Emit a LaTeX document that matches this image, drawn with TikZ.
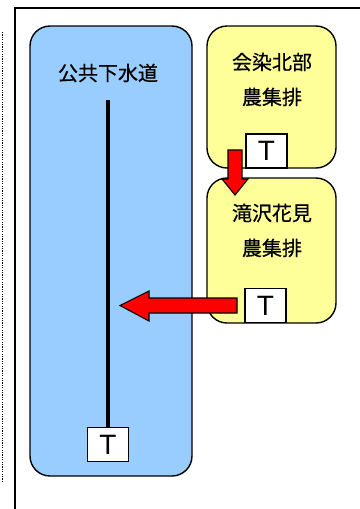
\documentclass[tikz,border=0pt]{standalone}
\usepackage{fontspec}
\setmainfont{Liberation Sans}
\newfontfamily\cjk[FakeBold=0.6]{Noto Sans CJK JP}
\begin{document}
\begin{tikzpicture}[x=1pt,y=-1pt,
  blueblk/.style={draw=black,line width=1.4pt,fill={rgb,255:red,153;green,204;blue,255},rounded corners=20pt},
  yelblk/.style={draw=black,line width=1.4pt,fill={rgb,255:red,255;green,255;blue,153},rounded corners=20pt},
  tbox/.style={draw=black,line width=1.3pt,fill=white,minimum width=41pt,minimum height=34pt,inner sep=0pt,font=\fontsize{28}{28}\selectfont},
  lbl/.style={font=\cjk\fontsize{20}{35}\selectfont,align=center},
  redarrow/.style={draw=black,line width=1.1pt,fill=red,line join=miter}]
\useasboundingbox (0,0) rectangle (359,509);
\fill[white] (0,0) rectangle (359,509);
% frame
\draw[line width=1.2pt] (15,520) -- (15,8) -- (370,8);
\draw[line width=1.6pt,dash pattern=on 1.2pt off 1.2pt] (2.5,32) -- (2.5,483);
% boxes
\node[blueblk,minimum width=162pt,minimum height=450pt,inner sep=0pt] (pub) at (111,251) {};
\node[yelblk,minimum width=129pt,minimum height=142pt,inner sep=0pt] (aizome) at (271.5,97) {};
\node[yelblk,minimum width=129pt,minimum height=145pt,inner sep=0pt] (takizawa) at (271.5,250.5) {};
% labels
\node[lbl] (publ) at (108,73) {公共下水道};
\node[lbl] (aizl) at (272,79.5) {会染北部\\農集排};
\node[lbl] (takl) at (272,230.5) {滝沢花見\\農集排};
% T boxes
\node[tbox] (t1) at (266.5,151) {T};
\node[tbox] (t2) at (265.5,305.5) {T};
\node[tbox] (t3) at (108,444.5) {T};
\coordinate (ltop) at (108,100);
\draw[line width=4pt] (ltop) -- (t3.north);
% red arrows
\draw[redarrow] (228,150) -- (242,150) -- (242,179) -- (248,179) -- (235,195) -- (222,179) -- (228,179) -- cycle;
\draw[redarrow] (237,298) -- (149,298) -- (149,291) -- (120,305.5) -- (149,321) -- (149,313) -- (237,313) -- cycle;
\end{tikzpicture}
\end{document}
